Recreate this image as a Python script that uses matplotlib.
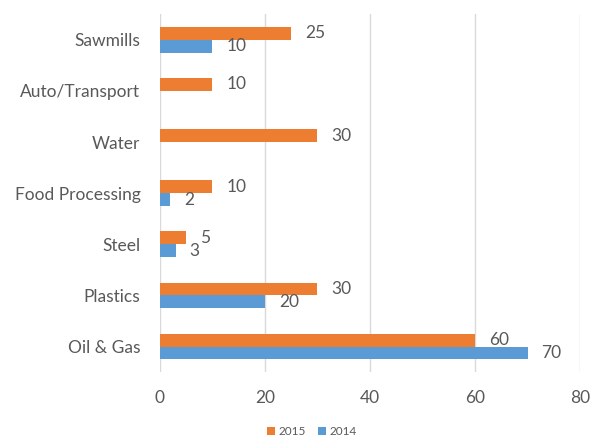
import numpy as np
import matplotlib
matplotlib.use('Agg')
import matplotlib.pyplot as plt

plt.rcParams['font.family'] = ['Lato', 'DejaVu Sans']

categories = ['Oil & Gas', 'Plastics', 'Steel', 'Food Processing', 'Water', 'Auto/Transport', 'Sawmills']
vals_2015 = [60, 30, 5, 10, 30, 10, 25]
vals_2014 = [70, 20, 3, 2, np.nan, np.nan, 10]

ORANGE = '#ED7D31'
BLUE = '#5B9BD5'
TEXT = '#595959'

fig = plt.figure(figsize=(5.92, 4.43), dpi=100)
ax = fig.add_axes([0.270, 0.160, 0.710, 0.808])

y = np.arange(len(categories))
h = 0.25
ax.barh(y + h / 2, vals_2015, height=h, color=ORANGE, label='2015', zorder=3)
ax.barh(y - h / 2, vals_2014, height=h, color=BLUE, label='2014', zorder=3)

for yi, v in zip(y, vals_2015):
    if not np.isnan(v):
        ax.annotate(f'{v:g}', (v, yi + h / 2), xytext=(10, 0), textcoords='offset points',
                    va='center', ha='left', fontsize=12.5, color=TEXT)
for yi, v in zip(y, vals_2014):
    if not np.isnan(v):
        ax.annotate(f'{v:g}', (v, yi - h / 2), xytext=(10, 0), textcoords='offset points',
                    va='center', ha='left', fontsize=12.5, color=TEXT)

ax.set_xlim(0, 80)
ax.set_ylim(-0.5, len(categories) - 0.5)
ax.set_xticks([0, 20, 40, 60, 80])
ax.set_yticks(y)
ax.set_yticklabels(categories)
ax.grid(axis='x', color='#D9D9D9', linewidth=1, zorder=0)
for s in ax.spines.values():
    s.set_visible(False)
ax.tick_params(axis='both', length=0, labelsize=12.5, colors=TEXT)
ax.tick_params(axis='x', pad=13)
ax.tick_params(axis='y', pad=14)

handles, labels = ax.get_legend_handles_labels()
fig.legend(handles, labels, loc='lower center', bbox_to_anchor=(0.527, -0.01), ncol=2,
           frameon=False, fontsize=8.5, handlelength=0.7, handleheight=0.7,
           handletextpad=0.3, columnspacing=1.0, labelcolor=TEXT)

fig.savefig('out.png', dpi=100)
